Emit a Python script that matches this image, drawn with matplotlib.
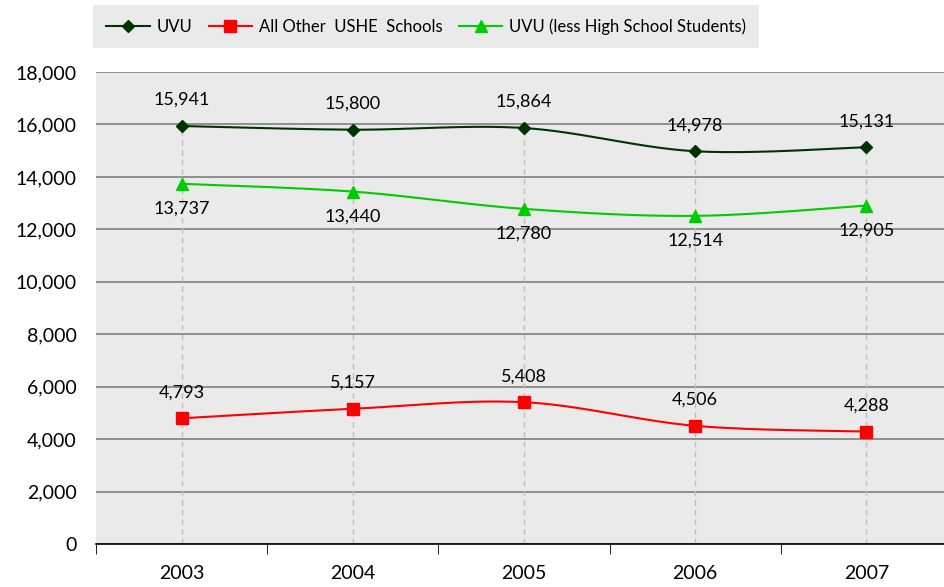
import numpy as np
import matplotlib
matplotlib.use("Agg")
import matplotlib.pyplot as plt
from matplotlib.ticker import FuncFormatter, FixedLocator

years = ["2003", "2004", "2005", "2006", "2007"]
uvu = [15941, 15800, 15864, 14978, 15131]
other_ushe = [4793, 5157, 5408, 4506, 4288]
uvu_less_hs = [13737, 13440, 12780, 12514, 12905]


def smooth(xs, ys, n=40):
    # bezier smoothing similar to spreadsheet "smoothed line"
    px = np.asarray(xs, float)
    py = np.asarray(ys, float)
    px = np.concatenate([[px[0]], px, [px[-1]]])
    py = np.concatenate([[py[0]], py, [py[-1]]])
    outx, outy = [], []
    t = np.linspace(0, 1, n)
    for i in range(1, len(px) - 2):
        p0 = np.array([px[i], py[i]])
        p3 = np.array([px[i + 1], py[i + 1]])
        b1 = p0 + (np.array([px[i + 1], py[i + 1]]) - np.array([px[i - 1], py[i - 1]])) / 6
        b2 = p3 - (np.array([px[i + 2], py[i + 2]]) - np.array([px[i], py[i]])) / 6
        pts = ((1 - t) ** 3)[:, None] * p0 + (3 * (1 - t) ** 2 * t)[:, None] * b1 \
            + (3 * (1 - t) * t ** 2)[:, None] * b2 + (t ** 3)[:, None] * p3
        outx.extend(pts[:, 0])
        outy.extend(pts[:, 1])
    return outx, outy


plt.rcParams["font.family"] = ["Lato", "DejaVu Sans"]

fig = plt.figure(figsize=(9.44, 5.87), dpi=100)
ax = fig.add_axes([96 / 944, 43 / 587, 856 / 944, 472 / 587])
ax.set_facecolor("#EAEAEA")

x = np.arange(len(years))

# drop lines
tops = np.max([uvu, other_ushe, uvu_less_hs], axis=0)
ax.vlines(x, 0, tops, colors="#BFBFBF", linestyles=(0, (4, 3)), linewidth=1, zorder=1)

series = [
    ("UVU", uvu, "#003300", "D", 6, 13, "bottom"),
    ("All Other  USHE  Schools", other_ushe, "#FF0000", "s", 9, 13, "bottom"),
    ("UVU (less High School Students)", uvu_less_hs, "#00CC00", "^", 8, -12, "top"),
]

for name, vals, col, mk, ms, off, va in series:
    sx, sy = smooth(x, vals)
    ax.plot(sx, sy, color=col, linewidth=1.5, zorder=3)
    ax.plot(x, vals, linestyle="none", marker=mk, markersize=ms, color=col, zorder=4)
    ax.plot([], [], color=col, marker=mk, markersize=ms, linewidth=1.5, label=name)
    for xi, v in zip(x, vals):
        ax.annotate(f"{v:,}", (xi, v), xytext=(0, off), textcoords="offset points",
                    ha="center", va=va, fontsize=13, color="#000000")

ax.set_xlim(-0.5, 4.5)
ax.set_ylim(0, 18000)
ax.set_yticks(np.arange(0, 18001, 2000))
ax.yaxis.set_major_formatter(FuncFormatter(lambda v, p: f"{int(v):,}"))
ax.grid(axis="y", color="#808080", linewidth=1.2)
ax.set_axisbelow(True)

ax.set_xticks(x)
ax.set_xticklabels(years)
ax.xaxis.set_minor_locator(FixedLocator(np.arange(-0.5, 4.6, 1)))
ax.tick_params(axis="x", which="major", length=0, pad=15, labelsize=14)
ax.tick_params(axis="x", which="minor", length=7, direction="out", color="black")
ax.tick_params(axis="y", length=0, pad=14, labelsize=14)

for s in ["left", "right", "top"]:
    ax.spines[s].set_visible(False)
ax.spines["bottom"].set_color("black")
ax.spines["bottom"].set_linewidth(1.2)

leg = fig.legend(loc="upper left", bbox_to_anchor=(93 / 944, 1 - 5 / 587), ncol=3,
                 frameon=True, fancybox=False, facecolor="#EAEAEA", edgecolor="none",
                 fontsize=12, handlelength=2.6, columnspacing=1.0, handletextpad=0.4,
                 borderpad=0.8, borderaxespad=0)
leg.get_frame().set_alpha(1)

fig.savefig("out.png", dpi=100, facecolor="white")
